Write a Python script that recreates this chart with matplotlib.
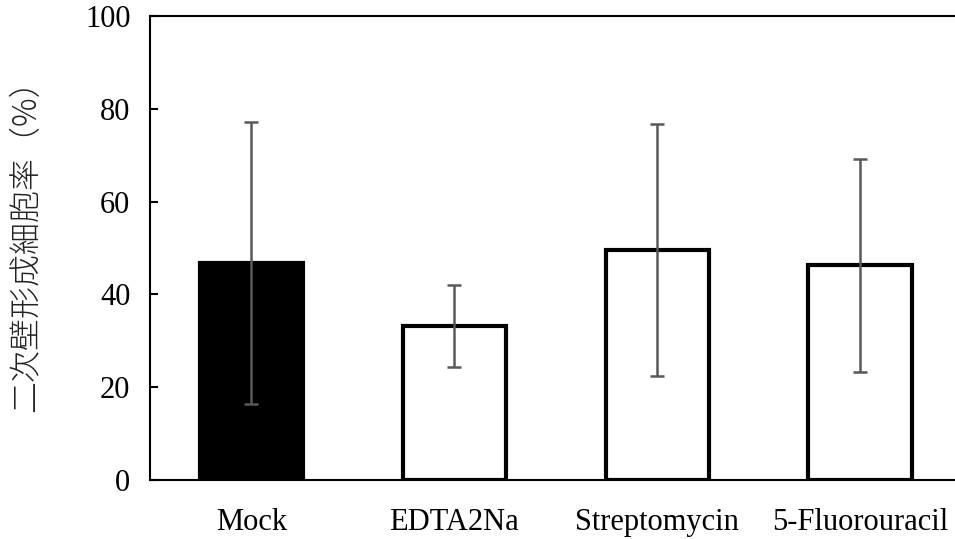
import matplotlib.pyplot as plt
import numpy as np

# データ
categories = ['Mock', 'EDTA2Na', 'Streptomycin', '5-Fluorouracil']
rates = [46.8, 33.2, 49.6, 46.3]
errors = [30.4, 8.8, 27.2, 23.0]
bar_colors = ['black', 'white', 'white', 'white']
y_ticks = [0, 20, 40, 60, 80, 100]

plt.rcParams['font.family'] = ['Liberation Serif', 'Noto Sans CJK JP']

fig = plt.figure(figsize=(9.55, 5.39), dpi=100)
ax = fig.add_axes([0.157, 0.1095, 0.85, 0.8605])

x = np.arange(len(categories))
ax.bar(x, rates, width=0.51, color=bar_colors, edgecolor='black', linewidth=3, zorder=2)
ax.errorbar(x, rates, yerr=errors, fmt='none', ecolor='#595959', elinewidth=1.8,
            capsize=5, capthick=1.8, zorder=3)

ax.set_xlim(-0.5, 3.5)
ax.set_ylim(0, 100)
ax.set_yticks(y_ticks)
ax.set_xticks(x)
ax.set_xticklabels(categories)

ax.spines['right'].set_visible(False)
for s in ['left', 'top', 'bottom']:
    ax.spines[s].set_linewidth(1.5)

ax.tick_params(axis='y', direction='in', length=6, width=1.5, labelsize=22, pad=14)
ax.tick_params(axis='x', length=0, labelsize=22, pad=20)

ax.set_ylabel('二次壁形成細胞率（%）', family=['Noto Sans CJK JP', 'Liberation Serif'],
              fontsize=23, fontweight='light', color='#222222')
ax.yaxis.set_label_coords(-0.131, 0.522)

fig.savefig('out.png', dpi=100)
